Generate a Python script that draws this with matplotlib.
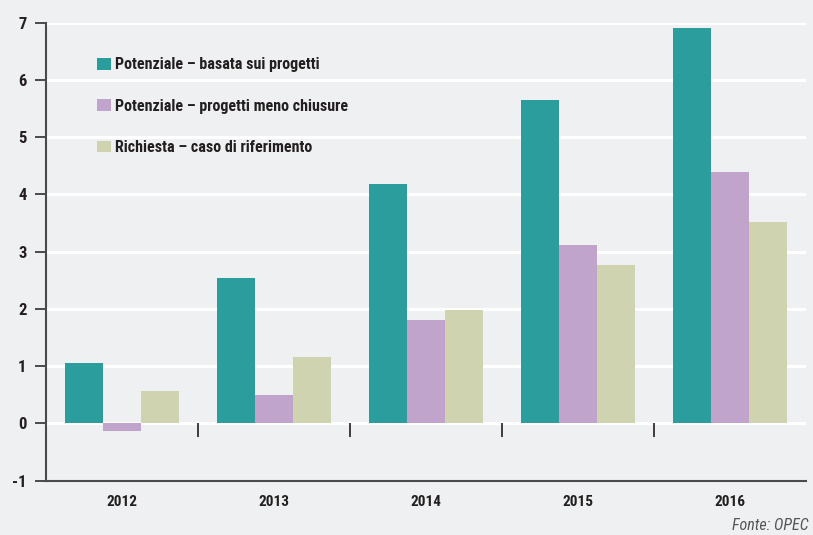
import matplotlib
matplotlib.use("Agg")
import matplotlib.pyplot as plt
from matplotlib import font_manager
from matplotlib.patches import Patch
import numpy as np

# data
years = ["2012", "2013", "2014", "2015", "2016"]
potenziale = [1.05, 2.54, 4.18, 5.65, 6.90]
meno_chiusure = [-0.13, 0.50, 1.81, 3.12, 4.39]
richiesta = [0.57, 1.16, 1.98, 2.77, 3.52]
series_labels = [
    "Potenziale \u2013 basata sui progetti",
    "Potenziale \u2013 progetti meno chiusure",
    "Richiesta \u2013 caso di riferimento",
]
colors = ["#2B9D9D", "#C0A4CC", "#D0D3AF"]
source = "Fonte: OPEC"

# pick a condensed font if one is around
names = {f.name for f in font_manager.fontManager.ttflist}
font = "DejaVu Sans"
for cand in ["Liberation Sans Narrow", "Roboto Condensed", "Arial Narrow", "Liberation Sans"]:
    if cand in names:
        font = cand
        break
plt.rcParams["font.family"] = [font, "DejaVu Sans"]

bg = "#EFF0F2"
txt = "#231F20"
axc = "#4A4A4A"

fig = plt.figure(figsize=(8.13, 5.35), dpi=100, facecolor=bg)
ax = fig.add_axes([0.0566, 0.1015, 0.9348, 0.8563], facecolor=bg)

x = np.arange(len(years))
w = 0.252
for i, (vals, c) in enumerate(zip([potenziale, meno_chiusure, richiesta], colors)):
    ax.bar(x + (i - 1) * w, vals, width=w, color=c, zorder=3, linewidth=0)

ax.set_xlim(-0.5, 4.5)
ax.set_ylim(-1, 7)
ax.set_yticks(range(-1, 8))
ax.set_yticklabels([str(v) for v in range(-1, 8)], fontsize=12, fontweight="bold", color=txt)

# white gridlines incl. zero line
for v in range(0, 8):
    ax.axhline(v, color="white", lw=2.2, zorder=1)

# separator ticks below zero line
for s in x[:-1] + 0.5:
    ax.plot([s, s], [0, -0.23], color=txt, lw=1.2, zorder=4, solid_capstyle="butt")

ax.set_xticks(x)
ax.set_xticklabels(years, fontsize=11, fontweight="bold", color=txt)
ax.tick_params(axis="x", length=0, pad=10)
ax.tick_params(axis="y", length=8, width=1.4, color=axc, pad=6)

for sp in ["top", "right"]:
    ax.spines[sp].set_visible(False)
ax.spines["left"].set_color(axc)
ax.spines["left"].set_linewidth(1.5)
ax.spines["bottom"].set_color(axc)
ax.spines["bottom"].set_linewidth(1.5)
ax.spines["bottom"].set_bounds(-0.5, 4.5)

handles = [Patch(facecolor=c, edgecolor="none") for c in colors]
leg = ax.legend(handles, series_labels, loc="upper left", bbox_to_anchor=(0.067, 0.924),
                frameon=False, borderaxespad=0, borderpad=0,
                handlelength=0.85, handleheight=0.75, handletextpad=0.25,
                labelspacing=1.65, prop={"size": 11.5, "weight": "bold"})
for t in leg.get_texts():
    t.set_color(txt)

fig.text(0.995, 0.004, source, ha="right", va="bottom", fontsize=11.5,
         style="italic", color="#555555")

fig.savefig("out.png", dpi=100, facecolor=bg)
